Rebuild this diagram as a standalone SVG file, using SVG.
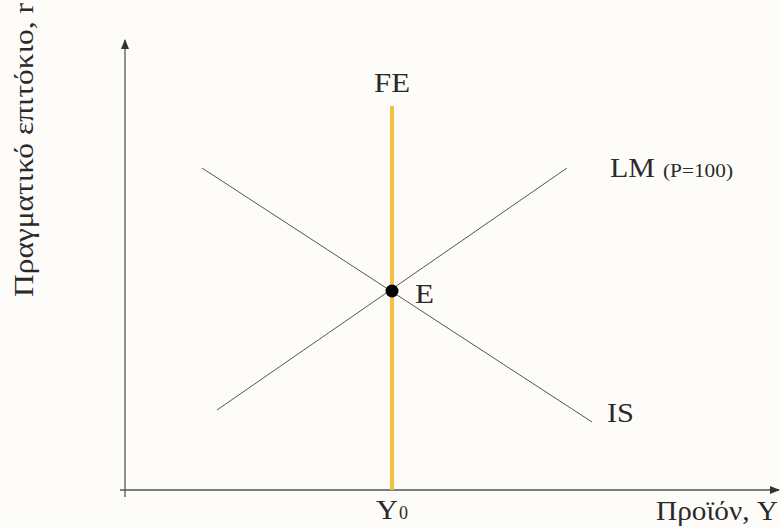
<svg xmlns="http://www.w3.org/2000/svg" width="781" height="527" viewBox="0 0 781 527">
<style>
text{font-family:"Liberation Serif","DejaVu Serif",serif;fill:#2a2a2a}
.big{font-size:28px}
.sm{font-size:18px}
.ax{stroke:#555;stroke-width:1.3;fill:none}
.cv{stroke:#555;stroke-width:1;fill:none}
</style>
<defs>
<marker id="arr" markerWidth="10" markerHeight="10" refX="9" refY="5" orient="auto" markerUnits="userSpaceOnUse">
<path d="M0,1 L10,5 L0,9 Z" fill="#333"/>
</marker>
</defs>
<rect width="781" height="527" fill="#fdfcf9"/>
<g id="axes">
<line class="ax" x1="125" y1="497" x2="125" y2="40" marker-end="url(#arr)"/>
<line class="ax" x1="120" y1="490" x2="779" y2="490" marker-end="url(#arr)"/>
</g>
<g id="connectors">
<line id="LM" class="cv" x1="217" y1="410" x2="567" y2="168"/>
<line id="IS" class="cv" x1="202" y1="168" x2="592" y2="422"/>
<line id="FE" x1="392" y1="106" x2="392" y2="490" stroke="#f4c242" stroke-width="4"/>
</g>
<g id="E"><circle cx="392" cy="291" r="6.5" fill="#000"/><text class="big" x="415" y="303" textLength="19" lengthAdjust="spacingAndGlyphs">E</text></g>
<g id="labels">
<text class="big" x="374" y="92" textLength="36" lengthAdjust="spacingAndGlyphs">FE</text>
<text class="big" x="610" y="177" textLength="45" lengthAdjust="spacingAndGlyphs">LM</text>
<text class="sm" x="663" y="177" textLength="70" lengthAdjust="spacingAndGlyphs">(P=100)</text>
<text class="big" x="607" y="422" textLength="27" lengthAdjust="spacingAndGlyphs">IS</text>
<text class="big" x="376" y="519" textLength="22" lengthAdjust="spacingAndGlyphs">Y</text>
<text class="sm" x="399" y="519">0</text>
<text class="big" x="656" y="520" textLength="122" lengthAdjust="spacingAndGlyphs">Προϊόν, Y</text>
<text class="big" transform="translate(33,297) rotate(-90)" textLength="294" lengthAdjust="spacingAndGlyphs">Πραγματικό επιτόκιο, r</text>
</g>
</svg>
